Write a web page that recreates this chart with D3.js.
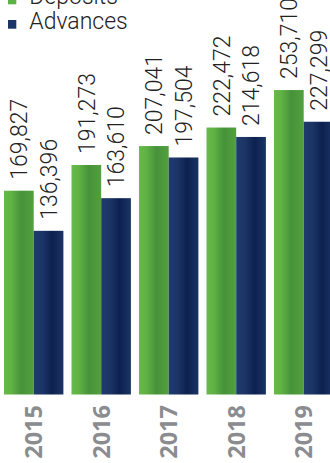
<!DOCTYPE html>
<html>
<head>
<meta charset="utf-8">
<script src="https://cdn.jsdelivr.net/npm/d3@7"></script>
<style>
  html, body { margin: 0; padding: 0; background: #fff; }
  svg { display: block; }
</style>
</head>
<body>
<svg id="chart" width="330" height="463"></svg>
<script>
// Deposits and advances by year
const years = ["2015", "2016", "2017", "2018", "2019"];
const seriesNames = ["Deposits", "Advances"];
const deposits = [169827, 191273, 207041, 222472, 253710];
const advances = [136396, 163610, 197504, 214618, 227299];

const W = 330, H = 463;
const svg = d3.select("#chart");

// Horizontal gradients give each bar a rounded, column-like look
const defs = svg.append("defs");
const gradStops = {
  Deposits: [["0%", "#67bb47"], ["25%", "#5fb244"], ["58%", "#47923a"], ["100%", "#52a03e"]],
  Advances: [["0%", "#1f3b6d"], ["30%", "#1b3565"], ["62%", "#0d2150"], ["100%", "#1a3464"]]
};
seriesNames.forEach(name => {
  const g = defs.append("linearGradient")
    .attr("id", "grad-" + name)
    .attr("x1", "0%").attr("x2", "100%").attr("y1", "0%").attr("y2", "0%");
  gradStops[name].forEach(([o, c]) => g.append("stop").attr("offset", o).attr("stop-color", c));
});
const legendColor = { Deposits: "#5cb345", Advances: "#1b3566" };

// Scales
const baseY = 394.5;
const y = d3.scaleLinear().domain([0, 300000]).range([baseY, baseY - 360]);
const x0 = d3.scaleBand().domain(years).range([4, 333.4]).paddingInner(0.12).paddingOuter(0);
const x1 = d3.scaleBand().domain(seriesNames).range([0, x0.bandwidth()]).padding(0);

const rows = years.map((yr, i) => ({
  year: yr,
  values: [
    { key: "Deposits", value: deposits[i] },
    { key: "Advances", value: advances[i] }
  ]
}));

const groups = svg.append("g").selectAll("g")
  .data(rows)
  .join("g")
  .attr("transform", d => `translate(${x0(d.year)},0)`);

groups.selectAll("rect")
  .data(d => d.values)
  .join("rect")
  .attr("x", d => x1(d.key))
  .attr("width", x1.bandwidth())
  .attr("y", d => y(d.value))
  .attr("height", d => y(0) - y(d.value))
  .attr("fill", d => `url(#grad-${d.key})`);

// Value labels, rotated, sitting above each bar
const fmt = d3.format(",");
groups.selectAll("text.val")
  .data(d => d.values)
  .join("text")
  .attr("class", "val")
  .attr("transform", d => `translate(${x1(d.key) + x1.bandwidth() / 2},${y(d.value) - 11}) rotate(-90)`)
  .attr("dy", "0.36em")
  .attr("text-anchor", "start")
  .attr("font-family", "Roboto, 'Open Sans', sans-serif")
  .attr("font-weight", 300)
  .attr("font-size", 23)
  .attr("fill", "#222")
  .text(d => fmt(d.value));

// Year axis labels under the groups
svg.append("g").selectAll("text")
  .data(years)
  .join("text")
  .attr("transform", d => `translate(${x0(d) + x0.bandwidth() / 2},${baseY + 10.5}) rotate(-90)`)
  .attr("dy", "0.36em")
  .attr("text-anchor", "end")
  .attr("font-family", "'Open Sans', sans-serif")
  .attr("font-weight", 700)
  .attr("font-size", 23.5)
  .attr("fill", "#8b8c90")
  .text(d => d);

// Legend
const legend = svg.append("g");
const legendRows = legend.selectAll("g")
  .data(seriesNames)
  .join("g")
  .attr("transform", (d, i) => `translate(8,${4.3 + i * 24.4})`);
legendRows.append("rect")
  .attr("x", 0).attr("y", -8.7)
  .attr("width", 8.3).attr("height", 8.7)
  .attr("fill", d => legendColor[d]);
legendRows.append("text")
  .attr("x", 21.3)
  .attr("y", 0)
  .attr("font-family", "Roboto, 'Open Sans', sans-serif")
  .attr("font-weight", 300)
  .attr("font-size", 23)
  .attr("fill", "#222")
  .text(d => d);
</script>
</body>
</html>
